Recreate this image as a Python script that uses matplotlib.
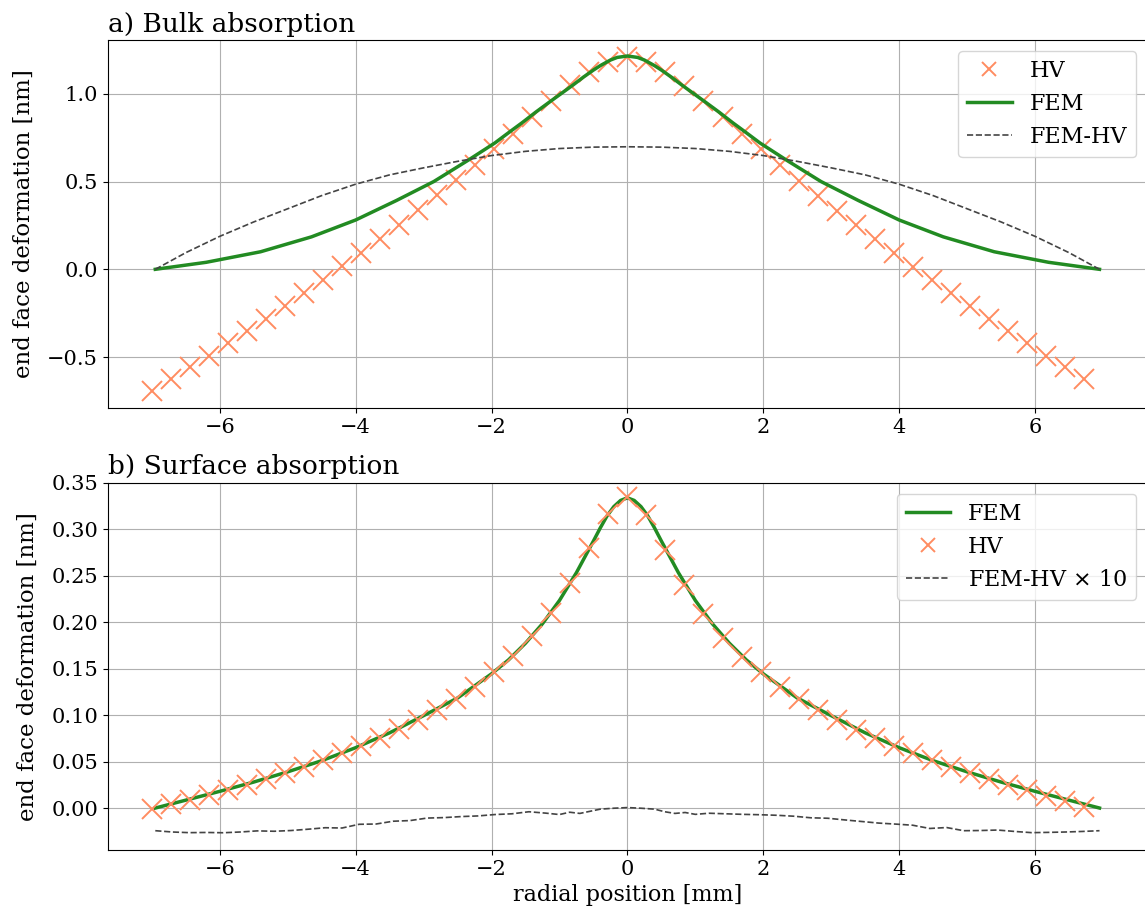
import numpy as np
import matplotlib
matplotlib.use("Agg")
import matplotlib.pyplot as plt

plt.rcParams['font.family'] = 'DejaVu Serif'

# ---- a) bulk absorption ----
hv_x = np.round(np.arange(-7.0, 6.75, 0.28), 2)
hv_bulk = [-0.693, -0.627, -0.558, -0.492, -0.421, -0.351, -0.281, -0.211, -0.133, -0.061,
           0.017, 0.093, 0.172, 0.254, 0.336, 0.421, 0.506, 0.594, 0.683, 0.771,
           0.866, 0.958, 1.049, 1.125, 1.182, 1.207, 1.182, 1.125, 1.046, 0.957,
           0.866, 0.768, 0.683, 0.594, 0.505, 0.419, 0.333, 0.251, 0.172, 0.092,
           0.014, -0.061, -0.135, -0.211, -0.282, -0.353, -0.421, -0.493, -0.559, -0.627]

fem_bulk_x = [-6.95, -6.2, -5.4, -4.65, -4.0, -3.4, -2.85, -2.35, -1.95, -1.75, -1.55, -1.35, -1.15, -0.95,
              -0.8, -0.65, -0.5, -0.4, -0.25, -0.15, 0.0,
              0.15, 0.25, 0.4, 0.5, 0.65, 0.8, 0.95, 1.15, 1.35, 1.55, 1.75, 1.95, 2.35, 2.85, 3.4, 4.0,
              4.65, 5.4, 6.2, 6.95]
fem_bulk = [0.0, 0.040, 0.100, 0.185, 0.281, 0.392, 0.500, 0.620, 0.720, 0.778, 0.835, 0.895, 0.952, 1.008,
            1.050, 1.094, 1.135, 1.160, 1.192, 1.207, 1.215,
            1.207, 1.192, 1.160, 1.135, 1.094, 1.050, 1.008, 0.952, 0.895, 0.835, 0.778, 0.720, 0.620, 0.500, 0.392, 0.281,
            0.185, 0.100, 0.040, 0.0]

diff_bulk_x = [-6.95, -6.5, -6.0, -5.5, -5.0, -4.5, -4.0, -3.5, -3.0, -2.5, -2.0, -1.5, -1.0, -0.5, 0.0,
               0.5, 1.0, 1.5, 2.0, 2.5, 3.0, 3.5, 4.0, 4.5, 5.0, 5.5, 6.0, 6.5, 6.95]
diff_bulk = [0.0, 0.095, 0.188, 0.270, 0.345, 0.420, 0.485, 0.538, 0.578, 0.615, 0.648, 0.672, 0.688, 0.696, 0.698,
             0.696, 0.688, 0.672, 0.648, 0.615, 0.578, 0.538, 0.485, 0.420, 0.345, 0.270, 0.188, 0.095, 0.0]

# ---- b) surface absorption ----
hv_surf = [-0.001, 0.004, 0.0086, 0.014, 0.0194, 0.0248, 0.0309, 0.038, 0.0445, 0.0517,
           0.0589, 0.0668, 0.075, 0.0847, 0.0948, 0.1055, 0.1174, 0.1306, 0.1468, 0.1637,
           0.1852, 0.2096, 0.242, 0.2797, 0.3166, 0.3346, 0.3155, 0.2778, 0.2401, 0.2089,
           0.1834, 0.163, 0.1461, 0.1306, 0.117, 0.1055, 0.0948, 0.084, 0.075, 0.0668,
           0.0589, 0.0517, 0.0445, 0.038, 0.0312, 0.0248, 0.0194, 0.0129, 0.0075, 0.0014]

fem_surf_x = [-6.95, -6.5, -6.0, -5.5, -5.0, -4.5, -4.0, -3.5, -3.0, -2.5, -2.0, -1.75, -1.5, -1.25, -1.0,
              -0.75, -0.5, -0.4, -0.3, -0.2, -0.1, 0.0, 0.1, 0.2, 0.3, 0.4, 0.5, 0.75, 1.0, 1.25, 1.5, 1.75, 2.0, 2.5,
              3.0, 3.5, 4.0, 4.5, 5.0, 5.5, 6.0, 6.5, 6.95]
fem_surf = [0.0, 0.0085, 0.018, 0.028, 0.039, 0.051, 0.065, 0.081, 0.0995, 0.1185, 0.1445, 0.1595, 0.1775, 0.1985, 0.2235,
            0.2535, 0.2875, 0.3015, 0.3145, 0.3245, 0.3312, 0.334, 0.3312, 0.3245, 0.3145, 0.3015, 0.2875, 0.2535, 0.2235,
            0.1985, 0.1775, 0.1595, 0.1445, 0.1185,
            0.0995, 0.081, 0.065, 0.051, 0.039, 0.028, 0.018, 0.0085, 0.0]

diff_surf_x = [-6.95, -6.7, -6.45, -6.2, -5.95, -5.7, -5.45, -5.2, -4.95, -4.7, -4.45, -4.2, -3.95, -3.7, -3.45,
               -3.2, -2.95, -2.7, -2.45, -2.2, -1.95, -1.7, -1.45, -1.2, -1.0, -0.85, -0.7, -0.55, -0.4, -0.2,
               0.0, 0.2, 0.4, 0.55, 0.7, 0.85, 1.0, 1.2, 1.45, 1.7, 1.95, 2.2, 2.45, 2.7, 2.95,
               3.2, 3.45, 3.7, 3.95, 4.2, 4.45, 4.7, 4.95, 5.2, 5.45, 5.7, 5.95, 6.2, 6.45, 6.7, 6.95]
diff_surf = [-0.0244, -0.0258, -0.0265, -0.0263, -0.0266, -0.0258, -0.0246, -0.025, -0.0242, -0.0228, -0.0212, -0.0215, -0.0175, -0.0172, -0.0142,
             -0.0135, -0.0108, -0.0103, -0.0092, -0.0085, -0.007, -0.0062, -0.004, -0.0055, -0.007, -0.0045, -0.0058, -0.0035, -0.0012, -0.0002,
             0.0005, -0.0002, -0.0012, -0.004, -0.0058, -0.0048, -0.0068, -0.0056, -0.0062, -0.0068, -0.0072, -0.0078, -0.0088, -0.0105, -0.011,
             -0.0128, -0.0145, -0.0162, -0.0173, -0.0185, -0.022, -0.021, -0.0244, -0.0242, -0.0237, -0.0252, -0.0265, -0.0262, -0.0258, -0.0252, -0.0244]

hv_color = '#ff8c61'
fem_color = '#228b22'
diff_color = '#444444'

fig = plt.figure(figsize=(11.45, 9.14), dpi=100)
# right spine sits just past the image edge, as in the reference crop
ax1 = fig.add_axes([0.0941, 0.5536, 0.9077, 0.4026])
ax2 = fig.add_axes([0.0941, 0.0700, 0.9077, 0.4021])

ax1.plot(hv_x, hv_bulk, 'x', color=hv_color, ms=14, mew=1.4, label='HV')
ax1.plot(fem_bulk_x, fem_bulk, '-', color=fem_color, lw=2.5, label='FEM')
ax1.plot(diff_bulk_x, diff_bulk, '--', color=diff_color, lw=1.2, label='FEM-HV')
ax1.set_xlim(-7.65, 7.65)
ax1.set_ylim(-0.79, 1.306)
ax1.set_yticks([-0.5, 0.0, 0.5, 1.0])
ax1.set_title('a) Bulk absorption', loc='left', fontsize=19)
ax1.set_ylabel('end face deformation [nm]', fontsize=16.5, labelpad=9)
ax1.grid(True)
ax1.legend(loc='upper right', fontsize=16, markerscale=0.7)

ax2.plot(fem_surf_x, fem_surf, '-', color=fem_color, lw=2.5, label='FEM')
ax2.plot(hv_x, hv_surf, 'x', color=hv_color, ms=14, mew=1.4, label='HV')
ax2.plot(diff_surf_x, diff_surf, '--', color=diff_color, lw=1.2, label='FEM-HV $\\times$ 10')
ax2.set_xlim(-7.65, 7.65)
ax2.set_ylim(-0.0452, 0.3505)
ax2.set_yticks([0.0, 0.05, 0.1, 0.15, 0.2, 0.25, 0.3, 0.35])
ax2.set_title('b) Surface absorption', loc='left', fontsize=19)
ax2.set_ylabel('end face deformation [nm]', fontsize=16.5, labelpad=9)
ax2.set_xlabel('radial position [mm]', fontsize=16)
ax2.grid(True)
ax2.legend(loc='upper right', fontsize=16, markerscale=0.7)

for ax in (ax1, ax2):
    ax.tick_params(labelsize=15)

fig.savefig('out.png', dpi=100)
